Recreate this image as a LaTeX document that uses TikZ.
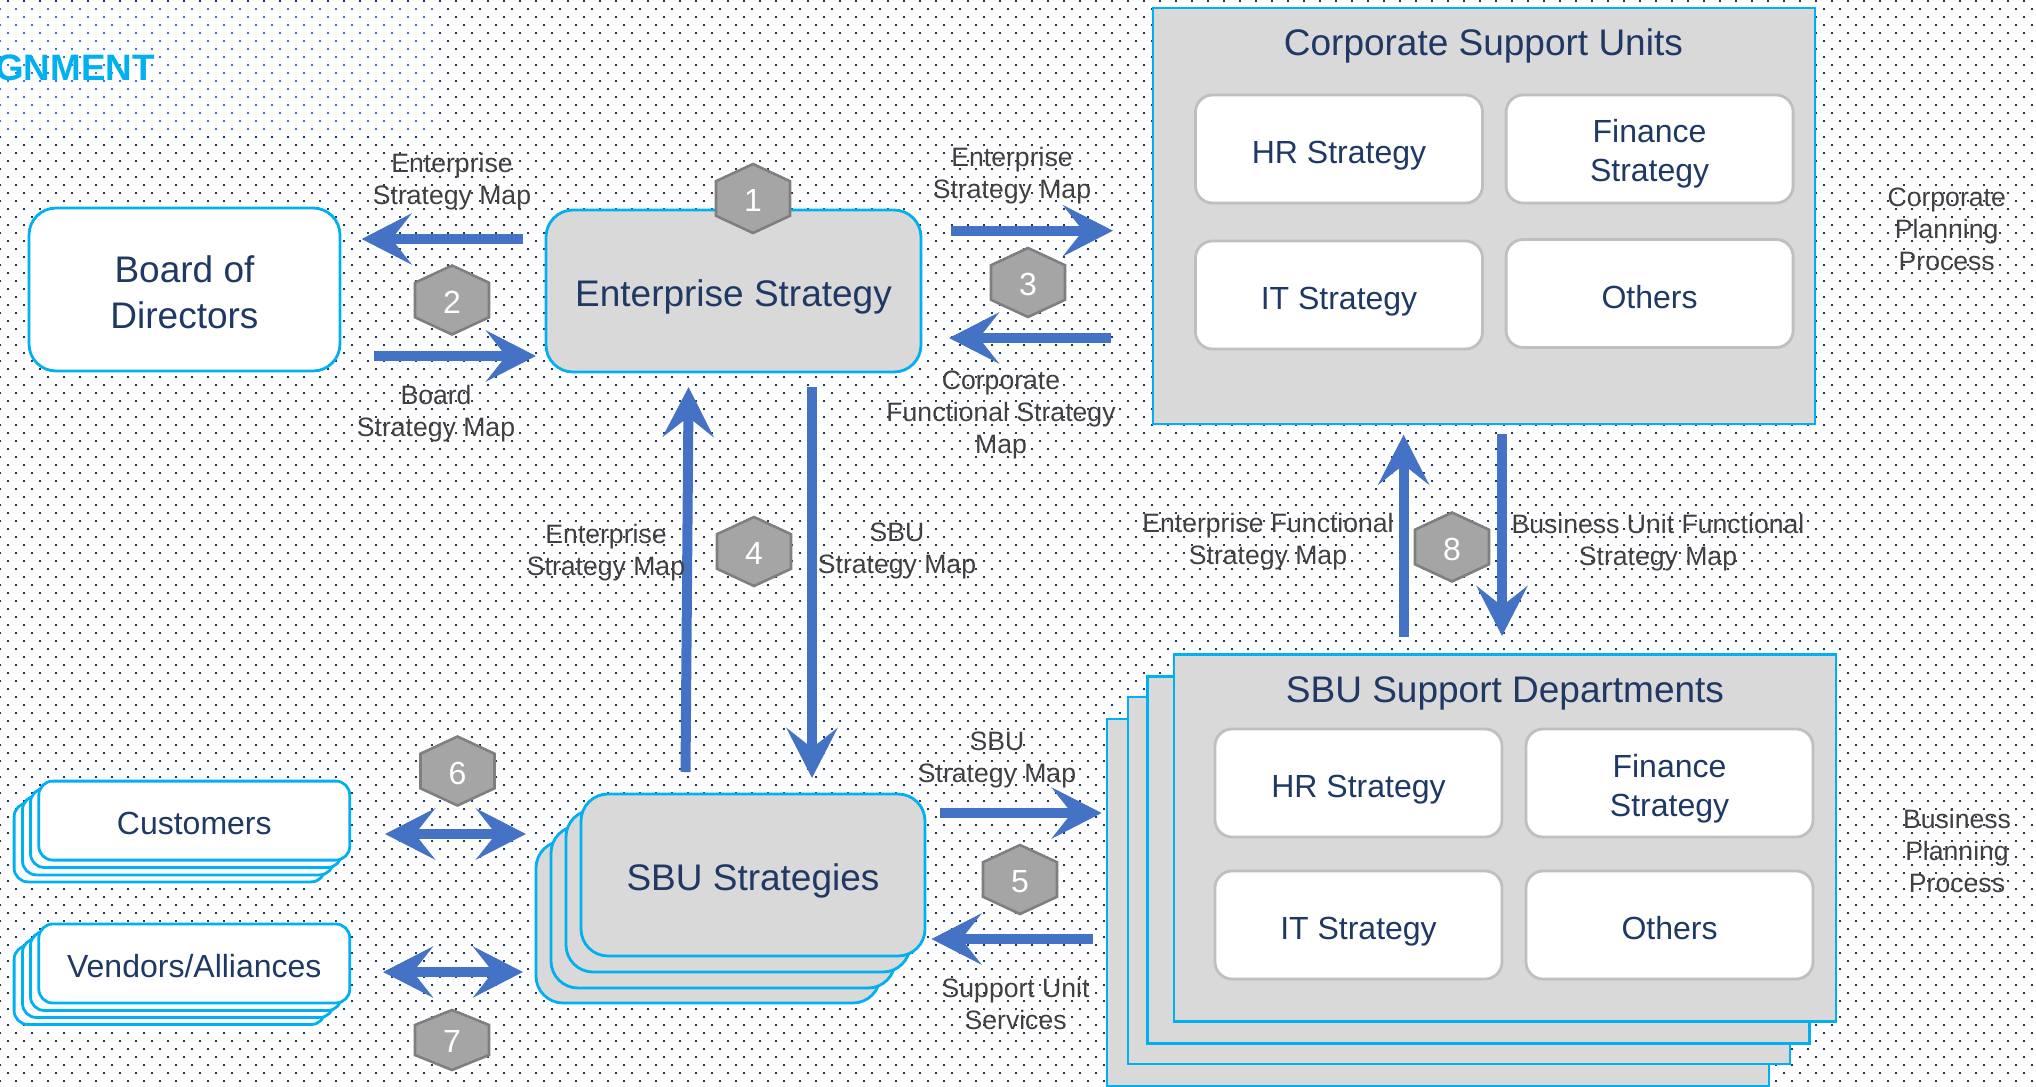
\documentclass[tikz,border=0pt]{standalone}
\usepackage{fontspec}
\setmainfont{Liberation Sans}
\usetikzlibrary{arrows.meta}
\definecolor{dotdark}{HTML}{1F3864}
\definecolor{dotblue}{HTML}{4472C4}
\definecolor{flowblue}{HTML}{4472C4}
\definecolor{edgeblue}{HTML}{00B0F0}
\definecolor{boxgrey}{HTML}{D9D9D9}
\definecolor{inneredge}{HTML}{BFBFBF}
\definecolor{hexfill}{HTML}{A5A5A5}
\definecolor{hexedge}{HTML}{7F7F7F}
\definecolor{labelgrey}{HTML}{404040}
\tikzset{
	dotrow/.style={line width=0.75pt,dash pattern=on 0.75pt off 7.25pt},
	flow/.style={line width=5pt,color=flowblue},
	>={Stealth[length=25pt,width=25.5pt,inset=10pt]},
	toptext/.style={execute at begin node={\rule{0pt}{#1}}},
	boxtext/.style={text=dotdark,align=center,inner sep=0pt,font=\fontsize{18.5}{23}\selectfont},
	smalltext/.style={text=dotdark,align=center,inner sep=0pt,font=\fontsize{16}{19.5}\selectfont},
	greybox/.style={draw=edgeblue,line width=1.4pt,fill=boxgrey,inner sep=0pt},
	roundbox/.style={greybox,rounded corners=13.5pt,minimum width=172pt,minimum height=81pt,boxtext},
	partybox/.style={draw=edgeblue,line width=1.4pt,fill=white,inner sep=0pt,rounded corners=7pt,minimum width=155.5pt,minimum height=39.5pt,smalltext},
	supportbox/.style={greybox,minimum width=331pt,minimum height=183.5pt},
	strategybox/.style={draw=inneredge,line width=1.4pt,fill=white,rounded corners=8.5pt,minimum width=143.5pt,minimum height=54pt,smalltext},
	maplabel/.style={text=labelgrey,align=center,inner sep=0pt,font=\fontsize{13.3}{16}\selectfont},
	hexmark/.pic={
		\draw[fill=hexfill,draw=hexedge,line width=1.3pt] (0,-34.5) -- (37,-17.3) -- (37,17.3) -- (0,34.5) -- (-37,17.3) -- (-37,-17.3) -- cycle;
		\node[text=white,inner sep=0pt,font=\fontsize{16}{19}\selectfont] (-num) at (0,2) {#1};
	}
}
\begin{document}
\begin{tikzpicture}[x=0.5pt,y=-0.5pt]
	\useasboundingbox (0,0) rectangle (2036,1087);
	\clip (0,0) rectangle (2036,1087);
	\foreach \k in {0,2,...,134} \draw[dotrow,dotdark] (7.25,1+8*\k) -- (2036,1+8*\k);
	\foreach \k in {1,3,...,135} \draw[dotrow,dotdark] (-0.75,1+8*\k) -- (2036,1+8*\k);
	\fill[white] (0,5) rectangle (436,132);
	\foreach \k in {2,4,...,16} \draw[dotrow,dotblue] (7.25,1+8*\k) -- (436,1+8*\k);
	\foreach \k in {1,3,...,15} \draw[dotrow,dotblue] (-0.75,1+8*\k) -- (436,1+8*\k);
	\node[anchor=east,inner sep=0pt,text=edgeblue,font=\fontsize{18.4}{22}\selectfont\bfseries] (title) at (155,68) {GNMENT};
	\node[roundbox,fill=white,minimum width=155.5pt,minimum height=81.5pt] (board) at (184.5,289.5) {\rule{0pt}{16pt}Board of\\Directors};
	\node[roundbox,minimum width=187.5pt,toptext=19.6pt] (ent) at (733.5,291) {Enterprise Strategy};
	\node[roundbox] (sbuD) at (708,922) {};
	\node[roundbox] (sbuC) at (723,907) {};
	\node[roundbox] (sbuB) at (738,891) {};
	\node[roundbox,toptext=19.6pt] (sbuA) at (753,875) {SBU Strategies};
	\node[partybox] (custD) at (169.6,842.4) {};
	\node[partybox] (custC) at (178,835.4) {};
	\node[partybox] (custB) at (186,828) {};
	\node[partybox,toptext=14.4pt] (custA) at (194.3,820.6) {Customers};
	\node[partybox] (vendD) at (169.6,985) {};
	\node[partybox] (vendC) at (178,978) {};
	\node[partybox] (vendB) at (186,971) {};
	\node[partybox,toptext=14.6pt] (vendA) at (194.3,963.5) {Vendors/Alliances};
	\node[greybox,minimum width=331pt,minimum height=208pt] (corp) at (1483.9,216) {};
	\node[boxtext] (corpT) at (1483.4,46) {Corporate Support Units};
	\node[strategybox,toptext=18pt] (corpHR) at (1339,149) {HR Strategy};
	\node[strategybox] (corpFin) at (1649.6,149) {\rule{0pt}{15.9pt}Finance\\Strategy};
	\node[strategybox,toptext=18pt] (corpIT) at (1339,295) {IT Strategy};
	\node[strategybox,toptext=14.8pt] (corpOth) at (1649.6,293.5) {Others};
	\node[supportbox] (suppD) at (1438,902.5) {};
	\node[supportbox] (suppC) at (1459,880.5) {};
	\node[supportbox] (suppB) at (1478.5,860) {};
	\node[supportbox] (suppA) at (1505,838) {};
	\node[boxtext] (suppT) at (1505,693) {SBU Support Departments};
	\node[strategybox,toptext=17.5pt] (suppHR) at (1358.5,783) {HR Strategy};
	\node[strategybox] (suppFin) at (1669.5,783) {\rule{0pt}{16.9pt}Finance\\Strategy};
	\node[strategybox,toptext=17.5pt] (suppIT) at (1358.5,925) {IT Strategy};
	\node[strategybox,toptext=14.8pt] (suppOth) at (1669.5,925) {Others};
	\coordinate (BoardIn) at (523,239);
	\coordinate (BoardInEnd) at (361.6,239);
	\coordinate (BoardOut) at (374,356);
	\coordinate (BoardOutEnd) at (536,356);
	\coordinate (CorpIn) at (950.6,230.7);
	\coordinate (CorpInEnd) at (1113,230.7);
	\coordinate (CorpOut) at (1111.4,338);
	\coordinate (CorpOutEnd) at (949,338);
	\coordinate (EntIn) at (685.5,772);
	\coordinate (EntInEnd) at (688.6,387);
	\coordinate (EntOut) at (812,386.7);
	\coordinate (EntOutEnd) at (812,778);
	\coordinate (SuppIn) at (940,813);
	\coordinate (SuppInEnd) at (1101.7,813);
	\coordinate (SuppOut) at (1093,939);
	\coordinate (SuppOutEnd) at (931.4,939);
	\coordinate (CustL) at (385,834);
	\coordinate (CustR) at (526,834);
	\coordinate (VendL) at (383,972);
	\coordinate (VendR) at (523,972);
	\coordinate (FuncUp) at (1403.6,636.7);
	\coordinate (FuncUpEnd) at (1403.6,434.7);
	\coordinate (FuncDown) at (1502,434);
	\coordinate (FuncDownEnd) at (1502,636);
	\draw[flow,->] (BoardIn) to (BoardInEnd);
	\draw[flow,->] (BoardOut) to (BoardOutEnd);
	\draw[flow,->] (CorpIn) to (CorpInEnd);
	\draw[flow,->] (CorpOut) to (CorpOutEnd);
	\draw[flow,->] (EntIn) to (EntInEnd);
	\draw[flow,->] (EntOut) to (EntOutEnd);
	\draw[flow,->] (SuppIn) to (SuppInEnd);
	\draw[flow,->] (SuppOut) to (SuppOutEnd);
	\draw[flow,<->] (CustL) to (CustR);
	\draw[flow,<->] (VendL) to (VendR);
	\draw[flow,->] (FuncUp) to (FuncUpEnd);
	\draw[flow,->] (FuncDown) to (FuncDownEnd);
	\pic (hexA) at (753,198.5) {hexmark=1};
	\pic (hexB) at (452,300) {hexmark=2};
	\pic (hexC) at (1028,282.5) {hexmark=3};
	\pic (hexD) at (754,551.5) {hexmark=4};
	\pic (hexE) at (1020,879.5) {hexmark=5};
	\pic (hexF) at (457.5,771) {hexmark=6};
	\pic[yscale=0.87] (hexG) at (452,1040) {hexmark=7};
	\pic (hexH) at (1452,547) {hexmark=8};
	\node[maplabel] (labelA) at (452,182) {Enterprise\\Strategy Map};
	\node[maplabel] (labelB) at (436,414) {Board\\Strategy Map};
	\node[maplabel] (labelC) at (1012,176) {Enterprise\\Strategy Map};
	\node[maplabel] (labelD) at (1001,415) {Corporate\\Functional Strategy\\Map};
	\node[maplabel] (labelE) at (606,553) {Enterprise\\Strategy Map};
	\node[maplabel] (labelF) at (897,550.5) {SBU\\Strategy Map};
	\node[maplabel] (labelG) at (997,760) {SBU\\Strategy Map};
	\node[maplabel] (labelH) at (1015.6,1004) {Support Unit\\Services};
	\node[maplabel] (labelI) at (1268,542) {Enterprise Functional\\Strategy Map};
	\node[maplabel] (labelJ) at (1658,543) {Business Unit Functional\\Strategy Map};
	\node[maplabel] (labelK) at (1946.7,229.5) {Corporate\\Planning\\Process};
	\node[maplabel] (labelL) at (1957,851) {Business\\Planning\\Process};
\end{tikzpicture}
\end{document}
